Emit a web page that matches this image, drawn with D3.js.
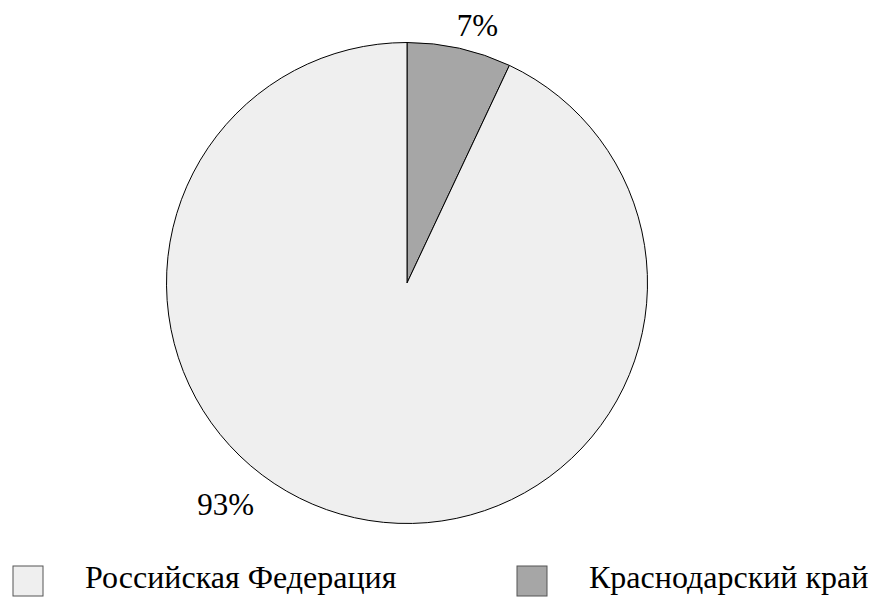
<!DOCTYPE html>
<html>
<head>
<meta charset="utf-8">
<script src="https://cdn.jsdelivr.net/npm/d3@7"></script>
<style>
  body { margin: 0; background: #fff; }
</style>
</head>
<body>
<div class="canvas"></div>
<script>
// data
const categories = ['Краснодарский край', 'Российская Федерация']
const values = [7, 93]
const labels = ['7%', '93%']
const legendOrder = ['Российская Федерация', 'Краснодарский край']

const colors = { 'Краснодарский край': '#a6a6a6', 'Российская Федерация': '#efefef' }
const font = "'Liberation Serif', 'Times New Roman'"

const width = 871
const height = 601
const radius = 240.5
const cx = 407
const cy = 283

const svg = d3.select('.canvas').append('svg').attr('width', width).attr('height', height)

const graph = svg.append('g').attr('transform', `translate(${cx},${cy})`)

const pie = d3.pie().sort(null).value(d => d.value)
const arc = d3.arc().innerRadius(0).outerRadius(radius)

const data = categories.map((c, i) => ({ name: c, value: values[i], label: labels[i] }))
const arcs = pie(data)

graph.selectAll('path').data(arcs).enter().append('path')
  .attr('d', arc)
  .attr('fill', d => colors[d.data.name])
  .attr('stroke', '#000')
  .attr('stroke-width', 1)

// label placement (excel puts them outside, shifted from the mid angle)
const labelShift = [0.047, 0.467]
const labelRadius = [267, 286]

graph.selectAll('text.lbl').data(arcs).enter().append('text')
  .attr('class', 'lbl')
  .attr('text-anchor', 'middle')
  .style('font-family', font)
  .attr('font-size', 31)
  .attr('x', (d, i) => {
    const a = (d.startAngle + d.endAngle) / 2 + labelShift[i]
    return Math.sin(a) * labelRadius[i]
  })
  .attr('y', (d, i) => {
    const a = (d.startAngle + d.endAngle) / 2 + labelShift[i]
    return -Math.cos(a) * labelRadius[i] + 10.5
  })
  .text(d => d.data.label)

// legend
const legendX = d3.scalePoint().domain(legendOrder).range([13, 517])
const legend = svg.append('g').attr('class', 'legend')
const items = legend.selectAll('g').data(legendOrder).enter().append('g')
  .attr('transform', d => `translate(${legendX(d)},566)`)

items.append('rect').attr('width', 30).attr('height', 30)
  .attr('fill', d => colors[d]).attr('stroke', '#555').attr('stroke-width', 1)

items.append('text').attr('x', 72).attr('y', 21.5).style('font-family', font).attr('font-size', 32).text(d => d)
</script>
</body>
</html>
